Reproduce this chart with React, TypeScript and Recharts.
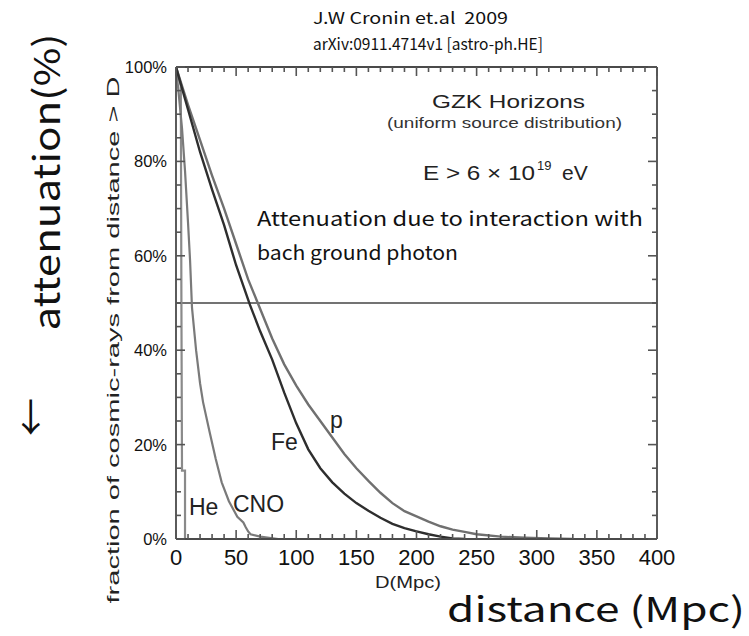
import { LineChart, Line, XAxis, YAxis, ReferenceLine } from "recharts";

// distance D (Mpc) / fraction (%)
const pD = [0, 10, 20, 30, 40, 50, 60, 68, 80, 90, 100, 110, 120, 130, 140, 150, 160, 170, 180, 190, 200, 210, 220, 230, 240, 250, 270, 290, 310, 330];
const pV = [100, 92, 84.5, 77, 70, 62.5, 55, 50, 42.5, 37, 32.5, 28.5, 25, 21.5, 18, 15, 12.3, 9.8, 7.6, 5.9, 4.8, 3.7, 2.7, 2.0, 1.5, 1.0, 0.5, 0.25, 0.1, 0];

const feD = [0, 10, 20, 30, 40, 50, 61.5, 70, 80, 90, 100, 110, 120, 130, 140, 150, 160, 170, 180, 190, 200, 210, 220, 230, 240];
const feV = [100, 91, 82, 74, 66.5, 58, 49.6, 44, 38, 31, 24.5, 19, 15, 12, 9.6, 7.6, 6, 4.5, 3.2, 2.3, 1.6, 1, 0.5, 0.1, 0];

const cnoD = [0, 2, 5, 7.5, 10, 11.7, 13.3, 16.7, 20, 22.5, 28, 33, 38, 44, 51, 56, 58, 60, 62, 70, 85];
const cnoV = [100, 95, 87, 78, 67, 59, 49, 40, 33, 29, 22.6, 17, 12, 8, 4.7, 3.5, 2.5, 1.6, 1, 0.5, 0];

const heD = [0, 1, 4, 4.5, 5, 7.5, 7.5];
const heV = [100, 99, 96, 50, 14.5, 14.5, 0];

const xTicks = [0, 10, 20, 30, 40, 50, 60, 70, 80, 90, 100, 110, 120, 130, 140, 150, 160, 170, 180, 190, 200, 210, 220, 230, 240, 250, 260, 270, 280, 290, 300, 310, 320, 330, 340, 350, 360, 370, 380, 390, 400];
const yTicks = [0, 5, 10, 15, 20, 25, 30, 35, 40, 45, 50, 55, 60, 65, 70, 75, 80, 85, 90, 95, 100];

const toRows = (d: number[], v: number[]) => d.map((x, i) => ({ d: x, v: v[i] }));

const AX = "#4a4a4a";
const TK = "#555";
const TICK_FONT = "'Liberation Sans', Arial, sans-serif";
const JP_FONT = "'Noto Sans CJK JP', 'Noto Sans', sans-serif";

// ticks point inward, majors longer; labels only on majors
const bottomTick = (p: any) => {
  const { x, y, payload } = p;
  const major = payload.value % 50 === 0;
  return (
    <g key={`b${payload.value}`}>
      <line x1={x} x2={x} y1={y} y2={y - (major ? 9 : 5)} stroke={TK} strokeWidth={1.6} />
      {major && (
        <text x={x} y={y + 26} textAnchor="middle" fontSize={22} fontFamily={TICK_FONT} fill="#111">
          {payload.value}
        </text>
      )}
    </g>
  );
};

const topTick = (p: any) => {
  const { x, y, payload } = p;
  const major = payload.value % 50 === 0;
  return (
    <g key={`t${payload.value}`}>
      <line x1={x} x2={x} y1={y} y2={y + (major ? 9 : 5)} stroke={TK} strokeWidth={1.6} />
    </g>
  );
};

const leftTick = (p: any) => {
  const { x, y, payload } = p;
  const major = payload.value % 20 === 0;
  return (
    <g key={`l${payload.value}`}>
      <line x1={x} x2={x + (major ? 9 : 5)} y1={y} y2={y} stroke={TK} strokeWidth={1.6} />
      {major && (
        <text x={x - 9} y={y + 6} textAnchor="end" fontSize={16.5} fontFamily={TICK_FONT} fill="#111">
          {payload.value}%
        </text>
      )}
    </g>
  );
};

const rightTick = (p: any) => {
  const { x, y, payload } = p;
  const major = payload.value % 20 === 0;
  return (
    <g key={`r${payload.value}`}>
      <line x1={x} x2={x - (major ? 9 : 5)} y1={y} y2={y} stroke={TK} strokeWidth={1.6} />
    </g>
  );
};

export default function App() {
  return (
    <div style={{ position: "absolute", left: 0, top: 0, width: 749, height: 636, background: "#fff" }}>
      <LineChart width={749} height={636} margin={{ top: 57, right: 82, bottom: 67, left: 126 }}>
        <XAxis xAxisId="b" type="number" dataKey="d" domain={[0, 400]} ticks={xTicks} interval={0} allowDataOverflow height={30}
          tickSize={0} tickMargin={0} tickLine={false} axisLine={{ stroke: AX, strokeWidth: 1.8 }} tick={bottomTick} />
        <XAxis xAxisId="t" orientation="top" type="number" dataKey="d" domain={[0, 400]} ticks={xTicks} interval={0} allowDataOverflow height={10}
          tickSize={0} tickMargin={0} tickLine={false} axisLine={{ stroke: AX, strokeWidth: 1.8 }} tick={topTick} />
        <YAxis yAxisId="l" type="number" domain={[0, 100]} ticks={yTicks} interval={0} allowDataOverflow width={50}
          tickSize={0} tickMargin={0} tickLine={false} axisLine={{ stroke: AX, strokeWidth: 1.8 }} tick={leftTick} />
        <YAxis yAxisId="r" orientation="right" type="number" domain={[0, 100]} ticks={yTicks} interval={0} allowDataOverflow width={10}
          tickSize={0} tickMargin={0} tickLine={false} axisLine={{ stroke: AX, strokeWidth: 1.8 }} tick={rightTick} />
        <ReferenceLine xAxisId="b" yAxisId="l" y={50} stroke="#444" strokeWidth={1.5} />
        <Line xAxisId="b" yAxisId="l" data={toRows(heD, heV)} dataKey="v" type="linear" stroke="#8a8a8a" strokeWidth={2.2} dot={false} isAnimationActive={false} />
        <Line xAxisId="b" yAxisId="l" data={toRows(cnoD, cnoV)} dataKey="v" type="linear" stroke="#7a7a7a" strokeWidth={2.2} dot={false} isAnimationActive={false} />
        <Line xAxisId="b" yAxisId="l" data={toRows(pD, pV)} dataKey="v" type="linear" stroke="#707070" strokeWidth={2.4} dot={false} isAnimationActive={false} />
        <Line xAxisId="b" yAxisId="l" data={toRows(feD, feV)} dataKey="v" type="linear" stroke="#2e2e2e" strokeWidth={2.4} dot={false} isAnimationActive={false} />
        {/* invisible series so the mirrored top/right axes get drawn */}
        <Line xAxisId="t" yAxisId="r" data={toRows(pD, pV)} dataKey="v" stroke="none" dot={false} activeDot={false} legendType="none" isAnimationActive={false} />
      </LineChart>

      <svg width={749} height={636} style={{ position: "absolute", left: 0, top: 0, pointerEvents: "none" }}>
        <text x={313} y={24} fontSize={16} fontFamily={JP_FONT} fill="#111" textLength={195} lengthAdjust="spacingAndGlyphs">
          J.W Cronin et.al{"\u00a0\u00a0"}2009
        </text>
        <text x={313} y={50} fontSize={16} fontFamily={JP_FONT} fill="#111" textLength={230} lengthAdjust="spacingAndGlyphs">
          arXiv:0911.4714v1 [astro-ph.HE]
        </text>
        <text x={432} y={108} fontSize={19} fontFamily={TICK_FONT} fill="#222" textLength={153} lengthAdjust="spacingAndGlyphs">GZK Horizons</text>
        <text x={387} y={128} fontSize={14.5} fontFamily={TICK_FONT} fill="#333" textLength={235} lengthAdjust="spacingAndGlyphs">(uniform source distribution)</text>
        <text x={423} y={180} fontSize={21} fontFamily={TICK_FONT} fill="#222" textLength={112} lengthAdjust="spacingAndGlyphs">E &gt; 6 × 10</text>
        <text x={537} y={170} fontSize={13} fontFamily={TICK_FONT} fill="#222">19</text>
        <text x={562} y={180} fontSize={21} fontFamily={TICK_FONT} fill="#222">eV</text>
        <text x={257} y={226} fontSize={20} fontFamily={JP_FONT} fill="#111" textLength={386} lengthAdjust="spacingAndGlyphs">Attenuation due to interaction with</text>
        <text x={257} y={260} fontSize={20} fontFamily={JP_FONT} fill="#111" textLength={201} lengthAdjust="spacingAndGlyphs">bach ground photon</text>
        <text x={189} y={515} fontSize={23} fontFamily={TICK_FONT} fill="#222">He</text>
        <text x={233} y={512} fontSize={23} fontFamily={TICK_FONT} fill="#222">CNO</text>
        <text x={271} y={450} fontSize={23} fontFamily={TICK_FONT} fill="#222">Fe</text>
        <text x={330} y={428} fontSize={23} fontFamily={TICK_FONT} fill="#222">p</text>
        <text x={375} y={588} fontSize={17} fontFamily={TICK_FONT} fill="#222" textLength={66} lengthAdjust="spacingAndGlyphs">D(Mpc)</text>
        <text x={119} y={340} transform="rotate(-90 119 340)" textAnchor="middle" fontSize={17} fontFamily={TICK_FONT} fill="#222" textLength={527} lengthAdjust="spacingAndGlyphs">
          fraction of cosmic-rays from distance &gt; D
        </text>
        <text x={60} y={182} transform="rotate(-90 60 182)" textAnchor="middle" fontSize={36} fontFamily={JP_FONT} fill="#111" textLength={297} lengthAdjust="spacingAndGlyphs">
          attenuation(%)
        </text>
        <text x={45} y={417} transform="rotate(-90 45 417)" textAnchor="middle" fontSize={38} fontFamily={JP_FONT} fill="#111">←</text>
        <text x={447} y={622} fontSize={34} fontFamily={JP_FONT} fill="#111" textLength={298} lengthAdjust="spacingAndGlyphs">distance (Mpc)</text>
      </svg>
    </div>
  );
}
